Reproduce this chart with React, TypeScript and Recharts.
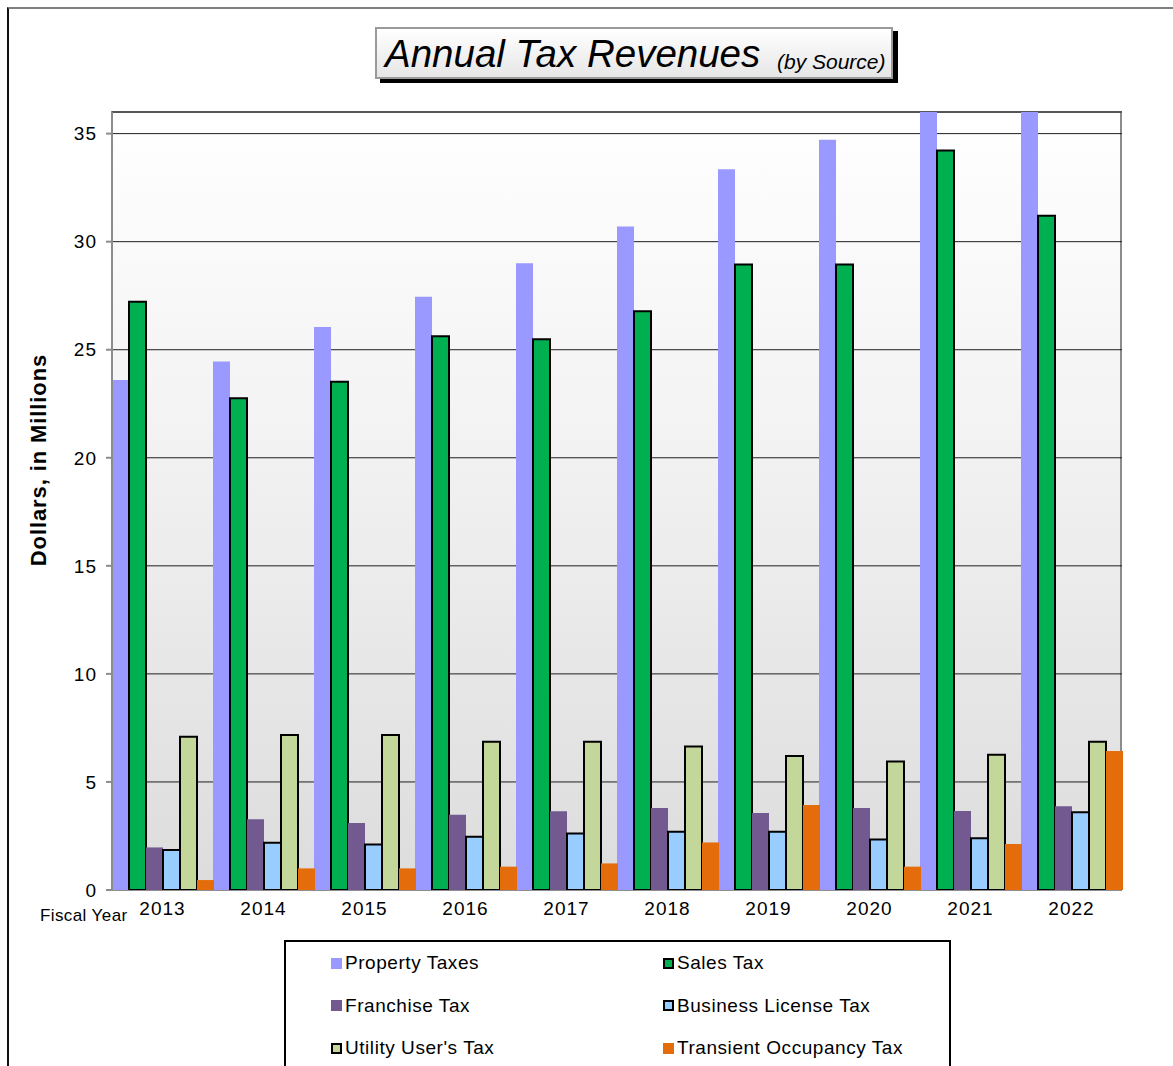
import React from "react";
import {
  BarChart,
  Bar,
  XAxis,
  YAxis,
  CartesianGrid,
  Legend,
} from "recharts";

// Fiscal years (categories)
const YEARS = ["2013", "2014", "2015", "2016", "2017", "2018", "2019", "2020", "2021", "2022"];

// Series values, in millions of dollars
const PROPERTY = [23.6, 24.45, 26.05, 27.45, 29.0, 30.7, 33.35, 34.72, 37.4, 38.3];
const SALES = [27.22, 22.75, 23.52, 25.62, 25.48, 26.78, 28.94, 28.94, 34.22, 31.2];
const FRANCHISE = [1.97, 3.27, 3.1, 3.48, 3.64, 3.79, 3.56, 3.79, 3.65, 3.87];
const BUSINESS = [1.85, 2.19, 2.1, 2.46, 2.62, 2.7, 2.7, 2.34, 2.4, 3.6];
const UTILITY = [7.09, 7.17, 7.17, 6.86, 6.86, 6.64, 6.2, 5.95, 6.26, 6.86];
const TRANSIENT = [0.46, 1.0, 1.0, 1.08, 1.23, 2.2, 3.93, 1.08, 2.13, 6.43];

const Y_TICKS = [0, 5, 10, 15, 20, 25, 30, 35];
const EDGE_TICKS = [0, 1, 2, 3, 4, 5, 6, 7, 8, 9, 10];

const SERIES = [
  { key: "property", name: "Property Taxes", color: "#9999ff", outlined: false },
  { key: "sales", name: "Sales Tax", color: "#00b050", outlined: true },
  { key: "franchise", name: "Franchise Tax", color: "#725990", outlined: false },
  { key: "business", name: "Business License Tax", color: "#99ccff", outlined: true },
  { key: "utility", name: "Utility User's Tax", color: "#c4d79b", outlined: true },
  { key: "transient", name: "Transient Occupancy Tax", color: "#e46c0a", outlined: false },
];

const data = YEARS.map((year, i) => ({
  year,
  property: PROPERTY[i],
  sales: SALES[i],
  franchise: FRANCHISE[i],
  business: BUSINESS[i],
  utility: UTILITY[i],
  transient: TRANSIENT[i],
}));

const FONT = '"Liberation Sans", Arial, sans-serif';

// legend laid out in two columns, three rows
const LegendBox = () => (
  <div
    style={{
      boxSizing: "border-box",
      width: "100%",
      height: "100%",
      border: "2px solid #000",
      background: "#fff",
      display: "grid",
      gridTemplateColumns: "332px 1fr",
      gridAutoRows: "42.5px",
      paddingTop: 0,
      paddingLeft: 45,
      fontFamily: FONT,
      fontSize: 19,
      letterSpacing: 0.55,
      color: "#000",
    }}
  >
    {SERIES.map((s) => (
      <div key={s.key} style={{ display: "flex", alignItems: "center", height: 42 }}>
        <span
          style={{
            display: "inline-block",
            boxSizing: "border-box",
            width: 11,
            height: 11,
            marginRight: 3,
            background: s.color,
            border: s.outlined ? "2px solid #000" : "none",
          }}
        />
        <span>{s.name}</span>
      </div>
    ))}
  </div>
);

const YLabel = ({ viewBox }: any) => {
  const x = viewBox.x - 14;
  const y = 460;
  return (
    <text
      x={x}
      y={y}
      transform={`rotate(-90 ${x} ${y})`}
      textAnchor="middle"
      dominantBaseline="central"
      fontFamily={FONT}
      fontSize={22}
      letterSpacing={0.9}
      fontWeight="bold"
      fill="#000"
    >
      Dollars, in Millions
    </text>
  );
};

export default function App() {
  return (
    <div
      style={{
        position: "fixed",
        left: 0,
        top: 0,
        width: 1173,
        height: 1066,
        background: "#fff",
        overflow: "hidden",
        fontFamily: FONT,
      }}
    >
      {/* outer frame */}
      <div
        style={{
          position: "absolute",
          left: 7,
          top: 7,
          width: 1200,
          height: 1100,
          borderLeft: "2px solid #111",
          borderTop: "2px solid #808080",
        }}
      />
      {/* plot background */}
      <div
        style={{
          position: "absolute",
          left: 111,
          top: 111,
          width: 1011,
          height: 779,
          boxSizing: "border-box",
          borderTop: "2px solid #8c8c8c",
          borderRight: "2px solid #8c8c8c",
          background: "linear-gradient(to bottom, #ffffff 0%, #f3f3f3 40%, #dcdcdc 100%)",
        }}
      />
      <div style={{ position: "absolute", left: 0, top: 0 }}>
        <BarChart
          width={1173}
          height={1066}
          data={data}
          margin={{ top: 112, right: 51, bottom: 146, left: 52 }}
          barCategoryGap={0}
          barGap={0}
        >
          <CartesianGrid vertical={false} stroke="#1e1e1e" strokeWidth={1} />
          <XAxis
            xAxisId="edges"
            type="number"
            domain={[0, 10]}
            ticks={EDGE_TICKS}
            tick={false}
            height={0}
            tickSize={7}
            axisLine={{ stroke: "#8c8c8c", strokeWidth: 2 }}
            tickLine={{ stroke: "#555", strokeWidth: 1 }}
          />
          <XAxis
            dataKey="year"
            height={30}
            axisLine={false}
            tickLine={false}
            tickSize={0}
            tickMargin={12}
            interval={0}
            tick={{ fontSize: 19, fill: "#000", fontFamily: FONT, letterSpacing: 1 }}
          />
          <YAxis
            width={60}
            domain={[0, 36]}
            ticks={Y_TICKS}
            allowDataOverflow
            interval={0}
            tickSize={6}
            tickMargin={9}
            axisLine={{ stroke: "#8c8c8c", strokeWidth: 2 }}
            tickLine={{ stroke: "#8c8c8c", strokeWidth: 2 }}
            tick={{ fontSize: 19, fill: "#000", fontFamily: FONT, letterSpacing: 1 }}
            label={<YLabel />}
          />
          <Legend
            layout="horizontal"
            verticalAlign="middle"
            align="center"
            wrapperStyle={{ left: 284, top: 940, width: 667, height: 140 }}
            content={<LegendBox />}
          />
          {SERIES.map((s) => (
            <Bar
              key={s.key}
              dataKey={s.key}
              name={s.name}
              fill={s.color}
              stroke={s.outlined ? "#000" : "none"}
              strokeWidth={s.outlined ? 2 : 0}
              isAnimationActive={false}
            />
          ))}
        </BarChart>
      </div>
      {/* title box */}
      <div
        style={{
          position: "absolute",
          left: 375,
          top: 27,
          width: 518,
          height: 52,
          boxSizing: "border-box",
          border: "2px solid #9a9a9a",
          background: "linear-gradient(to bottom, #ffffff 0%, #e6e6e6 100%)",
          boxShadow: "5px 4px 0 #000",
          fontStyle: "italic",
          color: "#000",
          whiteSpace: "nowrap",
        }}
      >
        <span style={{ position: "absolute", left: 8, top: 4, fontSize: 38.5, lineHeight: "42px" }}>
          Annual Tax Revenues
        </span>
        <span style={{ position: "absolute", left: 400, top: 21, fontSize: 21, lineHeight: "24px" }}>
          (by Source)
        </span>
      </div>
      {/* x axis caption */}
      <div
        style={{
          position: "absolute",
          left: 40,
          top: 906,
          fontSize: 17,
          letterSpacing: 0.4,
          lineHeight: "20px",
          color: "#000",
        }}
      >
        Fiscal Year
      </div>
    </div>
  );
}
